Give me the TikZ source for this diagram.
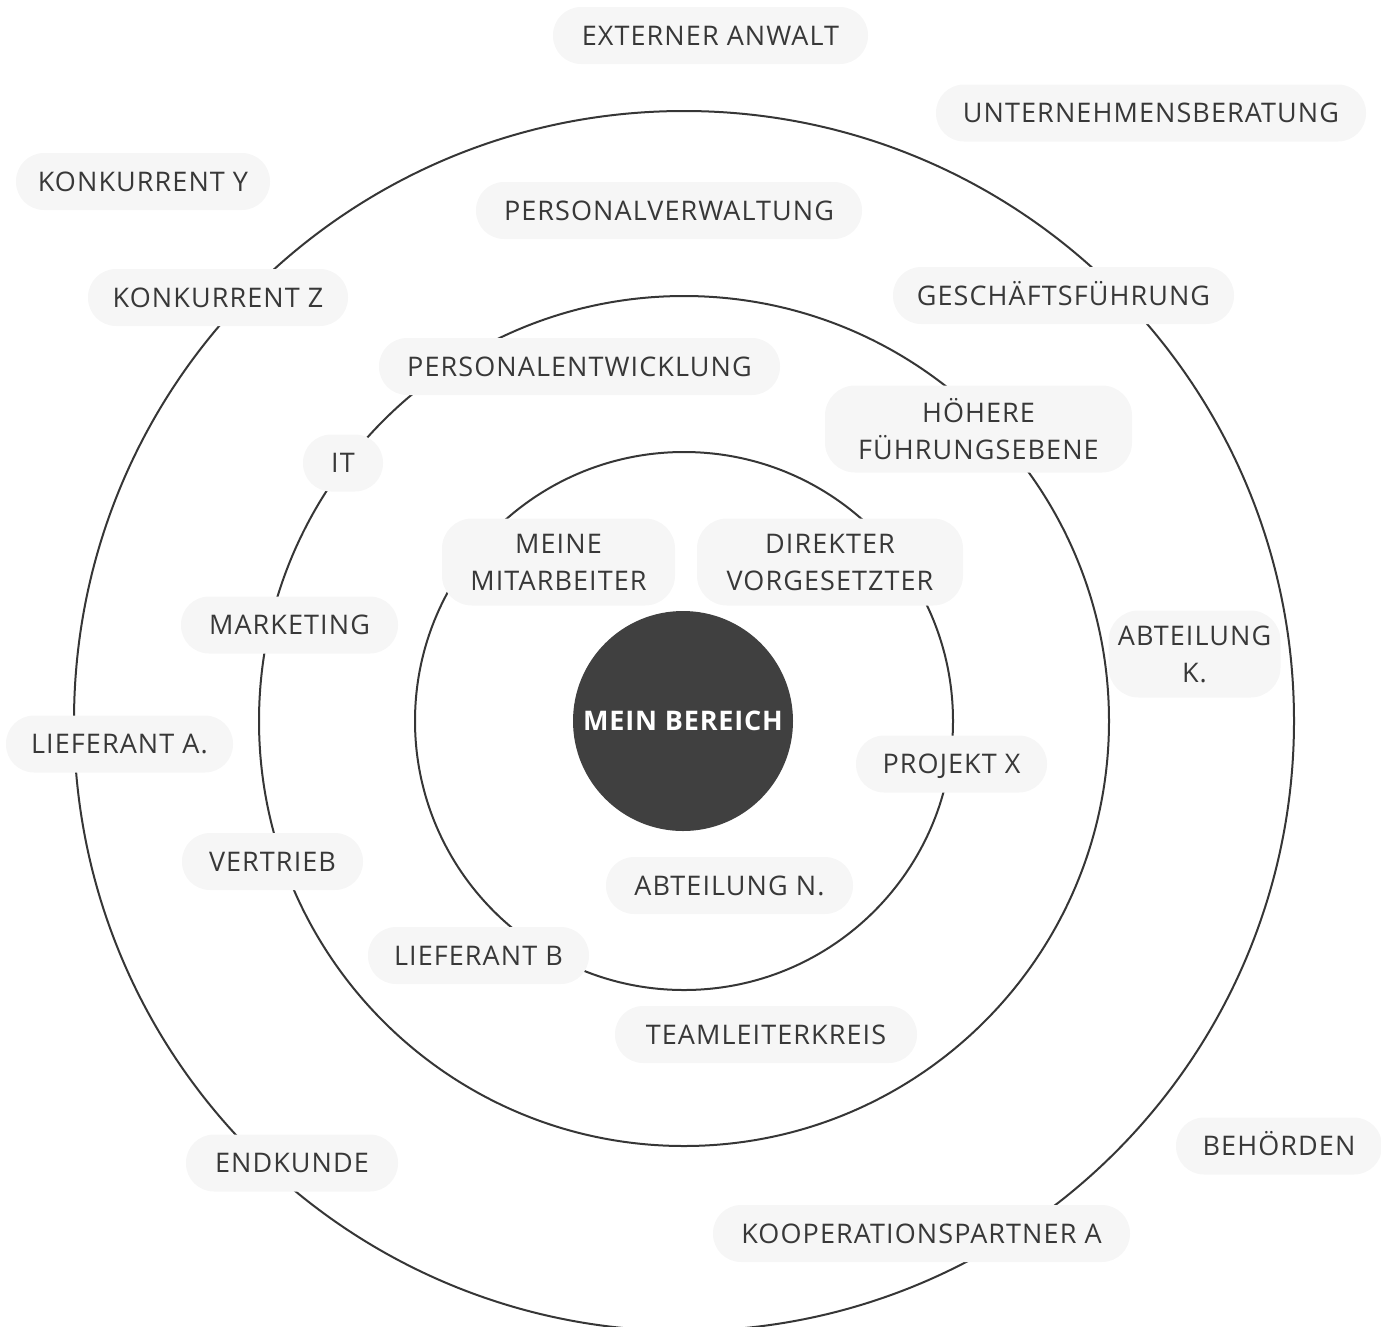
\documentclass[tikz,border=0pt]{standalone}
\usepackage{fontspec}
\newfontfamily\lbl[LetterSpace=4]{Open Sans}
\newfontfamily\lblbold[LetterSpace=3]{Open Sans Bold}
\definecolor{ring}{HTML}{363636}
\definecolor{pill}{HTML}{F6F6F6}
\definecolor{txt}{HTML}{383838}
\definecolor{core}{HTML}{404040}
\tikzset{
  pillbox/.style={fill=pill, rounded corners=28pt, minimum height=57pt,
    inner xsep=4pt, inner ysep=0pt, text=txt,
    font=\lbl\fontsize{27}{37}\selectfont, text height=19.5pt, text depth=0pt},
  pilltwo/.style={fill=pill, rounded corners=30pt, minimum height=87pt,
    inner xsep=4pt, inner ysep=0pt, text=txt, align=center,
    font=\lbl\fontsize{27}{37}\selectfont},
  ringline/.style={draw=ring, line width=2pt},
}
\begin{document}
\begin{tikzpicture}[x=1pt,y=-1pt]
\useasboundingbox (0,0) rectangle (1381,1326);
\begin{scope}
\clip (0,0) rectangle (1381,1326);
\coordinate (c) at (684,721);
\draw[ringline] (c) circle[radius=610];
\draw[ringline] (c) circle[radius=425];
\draw[ringline] (c) circle[radius=269];
\end{scope}
\node[circle, fill=core, minimum size=220pt, inner sep=0pt, text=white,
  font=\lblbold\fontsize{27}{32}\selectfont] (core) at (683,721) {MEIN BEREICH};

\node[pillbox, minimum width=315pt] (ext) at (710.5,35.5) {EXTERNER ANWALT};
\node[pillbox, minimum width=430pt] (unt) at (1151,113) {UNTERNEHMENSBERATUNG};
\node[pillbox, minimum width=254pt] (koy) at (143,181.5) {KONKURRENT Y};
\node[pillbox, minimum width=386pt] (pv) at (669,210.5) {PERSONALVERWALTUNG};
\node[pillbox, minimum width=260pt] (koz) at (218,297.5) {KONKURRENT Z};
\node[pillbox, minimum width=341pt] (gf) at (1063.5,295.5) {GESCHÄFTSFÜHRUNG};
\node[pillbox, minimum width=401pt] (pe) at (579.5,366.5) {PERSONALENTWICKLUNG};
\node[pilltwo, minimum width=307pt] (hf) at (978.5,429) {HÖHERE\\FÜHRUNGSEBENE};
\node[pillbox, minimum width=80pt] (it) at (343,463) {IT};
\node[pilltwo, minimum width=233pt] (mm) at (558.5,562) {MEINE\\MITARBEITER};
\node[pilltwo, minimum width=266pt] (dv) at (830,562) {DIREKTER\\VORGESETZTER};
\node[pillbox, minimum width=217pt] (mk) at (289.5,625) {MARKETING};
\node[pilltwo, minimum width=172pt] (ak) at (1194.5,654) {ABTEILUNG\\K.};
\node[pillbox, minimum width=227pt] (la) at (119.5,744) {LIEFERANT A.};
\node[pillbox, minimum width=191pt] (px) at (951.5,764) {PROJEKT X};
\node[pillbox, minimum width=181pt] (vt) at (272.5,861.5) {VERTRIEB};
\node[pillbox, minimum width=247pt] (an) at (729.5,885.5) {ABTEILUNG N.};
\node[pillbox, minimum width=221pt] (lb) at (478.5,955.5) {LIEFERANT B};
\node[pillbox, minimum width=302pt] (tl) at (766,1034.5) {TEAMLEITERKREIS};
\node[pillbox, minimum width=206pt] (bh) at (1279,1146) {BEHÖRDEN};
\node[pillbox, minimum width=212pt] (ek) at (292,1163) {ENDKUNDE};
\node[pillbox, minimum width=417pt] (kp) at (921.5,1233.5) {KOOPERATIONSPARTNER A};
\end{tikzpicture}
\end{document}
